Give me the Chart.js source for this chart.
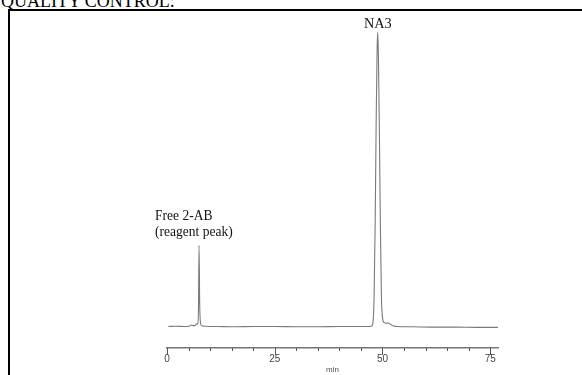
<!DOCTYPE html>
<html>
<head>
<meta charset="utf-8">
<script src="https://cdn.jsdelivr.net/npm/chart.js@4.4.1/dist/chart.umd.min.js"></script>
<style>
    html, body { margin: 0; padding: 0; background: #fff; overflow: hidden; }
    body { width: 582px; height: 375px; position: relative; }
    #title {
        position: absolute; left: 1px; top: -8px;
        font-family: 'Liberation Serif', serif; font-size: 18px; line-height: 18px;
        color: #000; white-space: nowrap;
    }
    #frame {
        position: absolute; left: 8px; top: 9px; width: 600px; height: 400px;
        border-top: 2px solid #000; border-left: 2px solid #000;
    }
    #chart-wrap { position: absolute; left: 0; top: 0; width: 582px; height: 375px; }
</style>
</head>
<body>
<div id="title">QUALITY CONTROL:</div>
<div id="frame"></div>
<div id="chart-wrap"><canvas id="chart"></canvas></div>
<script>
// Retention time (min) and detector signal (NA3 peak = 100)
const retentionTimes = [0.3, 2, 4, 5.3, 5.7, 6.0, 6.4, 6.8, 7.0, 7.15, 7.3, 7.44, 7.58, 7.75, 7.95, 8.3, 9,
    12, 16, 20, 25, 30, 35, 40, 44, 46.5, 47.5, 47.8, 48.05, 48.3, 48.55, 48.75, 48.9, 49.05, 49.25,
    49.5, 49.75, 50.0, 50.4, 50.9, 51.3, 51.7, 52.1, 52.6, 53.5, 57, 62, 67, 72, 76.8];
const signal = [0, 0.1, 0, 0.2, 0.5, 0.3, 0.3, 0.8, 1.0, 0.8, 6, 27.5, 8, 1.5, 0.5, 0.2, 0.1,
    0, -0.1, 0, 0, -0.1, -0.1, 0, 0, 0, 0.2, 1.5, 10, 35, 72, 94, 100, 92, 70,
    35, 10, 3, 1.3, 1.1, 1.2, 0.9, 0.5, 0.2, 0, -0.1, -0.2, -0.2, -0.3, -0.3];

const minorTicks = [0, 5, 10, 15, 20, 25, 30, 35, 40, 45, 50, 55, 60, 65, 70, 75];
const tickLabels = [0, 25, 50, 75];

// peak annotations
const peakNames = ['NA3', 'Free 2-AB'];
const peakTimes = [48.9, 7.44];
const peakValues = [100, 27.5];

const points = retentionTimes.map((t, i) => ({ x: t, y: signal[i] }));

// draw text a little narrower, the original uses a condensed serif
function narrowText(ctx, text, x, y, squeeze) {
    ctx.save();
    ctx.translate(x, y);
    ctx.scale(squeeze, 1);
    ctx.fillText(text, 0, 0);
    ctx.restore();
}

const axisExtras = {
    id: 'axisExtras',
    afterDraw(chart) {
        const ctx = chart.ctx;
        const xs = chart.scales.x;
        const ys = chart.scales.y;
        const axisY = chart.chartArea.bottom;

        // tick marks hanging under the axis line
        ctx.save();
        ctx.strokeStyle = '#555';
        ctx.lineWidth = 1;
        minorTicks.forEach(t => {
            const px = Math.round(xs.getPixelForValue(t)) + 0.5;
            const len = tickLabels.includes(t) ? 7 : 3;
            ctx.beginPath();
            ctx.moveTo(px, axisY);
            ctx.lineTo(px, axisY + len);
            ctx.stroke();
        });

        // peak names
        ctx.fillStyle = '#111';
        ctx.textBaseline = 'alphabetic';
        ctx.font = '15px "Liberation Serif", serif';
        ctx.textAlign = 'center';
        narrowText(ctx, peakNames[0], xs.getPixelForValue(peakTimes[0]), ys.getPixelForValue(peakValues[0]) - 4, 0.95);

        ctx.textAlign = 'left';
        const fx = xs.getPixelForValue(peakTimes[1]) - 44;
        const fy = ys.getPixelForValue(peakValues[1]);
        narrowText(ctx, peakNames[1], fx, fy - 26, 0.9);
        narrowText(ctx, '(reagent peak)', fx, fy - 10, 0.9);
        ctx.restore();
    }
};

new Chart(document.getElementById('chart'), {
    type: 'line',
    data: {
        datasets: [{
            data: points,
            borderColor: '#7a7a7a',
            borderWidth: 1.1,
            pointRadius: 0,
            fill: false,
            cubicInterpolationMode: 'monotone'
        }]
    },
    options: {
        responsive: true,
        maintainAspectRatio: false,
        animation: false,
        layout: { padding: { left: 167, right: 84, top: 20, bottom: 0 } },
        plugins: {
            legend: { display: false },
            tooltip: { enabled: false }
        },
        scales: {
            x: {
                type: 'linear',
                min: 0,
                max: 76.8,
                border: { display: true, color: '#777', width: 1.5 },
                grid: { display: false, drawTicks: false },
                afterBuildTicks: axis => {
                    axis.ticks = tickLabels.map(v => ({ value: v }));
                },
                afterFit: axis => {
                    axis.height = 27;
                },
                ticks: {
                    padding: 5,
                    color: '#444',
                    font: { family: 'Liberation Sans', size: 10 },
                    maxRotation: 0
                },
                title: {
                    display: true,
                    text: 'min',
                    color: '#555',
                    font: { family: 'Liberation Sans', size: 8 },
                    padding: { top: 0, bottom: 0 }
                }
            },
            y: {
                display: false,
                min: -7.3,
                max: 104.07
            }
        }
    },
    plugins: [axisExtras]
});
</script>
</body>
</html>
